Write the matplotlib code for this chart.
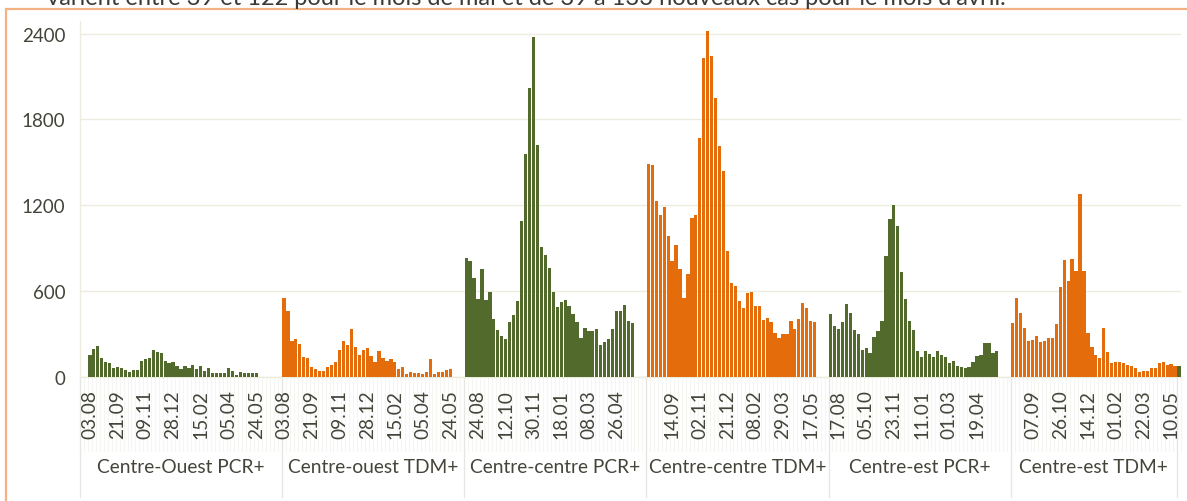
import matplotlib
matplotlib.use("Agg")
import matplotlib.pyplot as plt
from matplotlib.patches import Rectangle
import matplotlib.transforms as mtransforms

plt.rcParams['font.family'] = ['Lato', 'DejaVu Sans']

# ---------------- data ----------------
group_names = ["Centre-Ouest PCR+", "Centre-ouest TDM+", "Centre-centre PCR+",
               "Centre-centre TDM+", "Centre-est PCR+", "Centre-est TDM+"]

co_pcr = [156, 198, 214, 133, 105, 95, 63, 70, 60, 49, 37, 49, 49, 112, 126, 133, 188, 177,
          170, 112, 100, 105, 77, 56, 74, 65, 84, 53, 77, 44, 60, 26, 30, 26, 26, 60, 40, 16,
          35, 28, 28, 28, 28]
co_tdm = [553, 460, 253, 265, 228, 140, 135, 70, 56, 40, 44, 70, 81, 105, 186, 251, 226, 337,
          212, 156, 191, 202, 144, 105, 181, 133, 114, 126, 102, 58, 72, 21, 33, 26, 30, 23,
          37, 123, 23, 37, 37, 47, 56]
cc_pcr = [834, 812, 691, 546, 756, 537, 593, 404, 327, 285, 264, 385, 430, 532, 1093, 1557,
          2017, 2375, 1618, 911, 852, 763, 595, 488, 525, 537, 495, 439, 385, 276, 339, 320,
          320, 334, 222, 247, 264, 336, 458, 462, 500, 388, 378]
cc_tdm = [1492, 1485, 1228, 1135, 1191, 985, 808, 920, 752, 553, 721, 1109, 1130, 1672, 2230,
          2421, 2246, 1947, 1611, 1443, 883, 658, 635, 528, 479, 588, 595, 495, 497, 397, 409,
          385, 308, 276, 299, 301, 388, 332, 406, 516, 479, 388, 385]
ce_pcr = [438, 354, 333, 382, 509, 445, 328, 302, 190, 204, 166, 277, 321, 394, 848, 1101,
          1205, 1057, 734, 544, 391, 326, 183, 138, 183, 159, 138, 183, 157, 143, 96, 112, 75,
          73, 61, 68, 103, 145, 157, 239, 239, 171, 183]
ce_tdm = [380, 551, 450, 340, 255, 262, 286, 246, 253, 272, 274, 373, 626, 816, 670, 827, 743,
          1282, 743, 309, 211, 157, 134, 345, 178, 101, 108, 105, 96, 82, 80, 61, 33, 42, 45,
          61, 61, 101, 105, 84, 89, 75]
next_group_start = [80]   # first bar of the following (cut-off) group

group_values = [co_pcr, co_tdm, cc_pcr, cc_tdm, ce_pcr, ce_tdm]

labels_g1 = ["03.08", "21.09", "09.11", "28.12", "15.02", "05.04", "24.05"]
labels_g2 = ["03.08", "21.09", "09.11", "28.12", "15.02", "05.04", "24.05"]
labels_g3 = ["24.08", "12.10", "30.11", "18.01", "08.03", "26.04"]
labels_g4 = ["14.09", "02.11", "21.12", "08.02", "29.03", "17.05"]
labels_g5 = ["17.08", "05.10", "23.11", "11.01", "01.03", "19.04"]
labels_g6 = ["07.09", "26.10", "14.12", "01.02", "22.03", "10.05"]
group_labels = [labels_g1, labels_g2, labels_g3, labels_g4, labels_g5, labels_g6]
first_label_week = [0, 0, 3, 6, 2, 5]    # week index of first labelled date
label_step = 7                           # one label every 7 weeks

# category slots per group (blank weeks included)
leading_blank = [2, 0, 0, 0, 0, 0]
group_slots = [51, 46, 46, 46, 46, 42]

colors = ["#526A2C", "#E46C0A"]

# ---------------- figure ----------------
W, H = 1187, 502
fig = plt.figure(figsize=(W / 100, H / 100), dpi=100)
ax_left, ax_right, ax_top, ax_bottom = 80, 1181, 21.7, 378
ax = fig.add_axes([ax_left / W, 1 - ax_bottom / H, (ax_right - ax_left) / W,
                   (ax_bottom - ax_top) / H])
ax_h = ax_bottom - ax_top

text_col = "#45443a"
grid_col = "#EEEBDF"
blend = mtransforms.blended_transform_factory(ax.transData, ax.transAxes)

start = 0
boundaries = [0]
for gi, vals in enumerate(group_values):
    x0 = start + leading_blank[gi]
    xs = [x0 + i + 0.5 for i in range(len(vals))]
    ax.bar(xs, vals, width=0.82, color=colors[gi % 2], linewidth=0, zorder=3)
    # tick labels
    for k, lab in enumerate(group_labels[gi]):
        xl = x0 + first_label_week[gi] + k * label_step + 0.5
        ax.text(xl, -12 / ax_h, lab, rotation=90, ha="center", va="top",
                fontsize=13.8, color=text_col, transform=blend, clip_on=False)
    # group label
    gc = start + group_slots[gi] / 2
    ax.text(gc, -90 / ax_h, group_names[gi], ha="center", va="center",
            fontsize=13.8, color=text_col, transform=blend, clip_on=False)
    start += group_slots[gi]
    boundaries.append(start)

# first bar of next group (cut off at the right)
ax.bar([start + 0.5], next_group_start, width=0.82, color=colors[0], linewidth=0, zorder=3)
total = start + len(next_group_start)

# faint category tick marks
for i in range(total + 1):
    ax.plot([i, i], [0, -74 / ax_h], color="#F5F5F2", lw=0.8, transform=blend,
            clip_on=False, zorder=1)
# group divider lines
for b in boundaries:
    ax.plot([b, b], [0, -120 / ax_h], color="#E6E6E2", lw=0.9, transform=blend,
            clip_on=False, zorder=1)

ax.set_xlim(0, total)
ax.set_ylim(0, 2490)
ax.set_yticks([0, 600, 1200, 1800, 2400])
ax.set_yticklabels(["0", "600", "1200", "1800", "2400"])
ax.set_xticks([])
ax.tick_params(axis="y", length=0, pad=10.5, labelsize=13.5, labelcolor=text_col)
ax.yaxis.grid(True, color=grid_col, lw=1.0, zorder=0)
ax.set_axisbelow(True)
for s in ["top", "right"]:
    ax.spines[s].set_visible(False)
ax.spines["left"].set_color(grid_col)
ax.spines["bottom"].set_color(grid_col)
ax.spines["left"].set_linewidth(1.0)
ax.spines["bottom"].set_linewidth(1.0)

# chart-area frame
fig.patches.append(Rectangle((6 / W, -0.2), 1.2, (1 - 10 / H) + 0.2, transform=fig.transFigure,
                             fill=False, edgecolor="#F4B183", lw=1.6, zorder=0))

# cut-off paragraph text above the chart
fig.text(47 / W, 1 - 5.0 / H,
         "varient entre 39 et 122 pour le mois de mai et de 39 à 133 nouveaux cas pour le mois d'avril.",
         fontsize=17, va="baseline", ha="left", color="#3a3a36")

fig.savefig("out.png", dpi=100)
